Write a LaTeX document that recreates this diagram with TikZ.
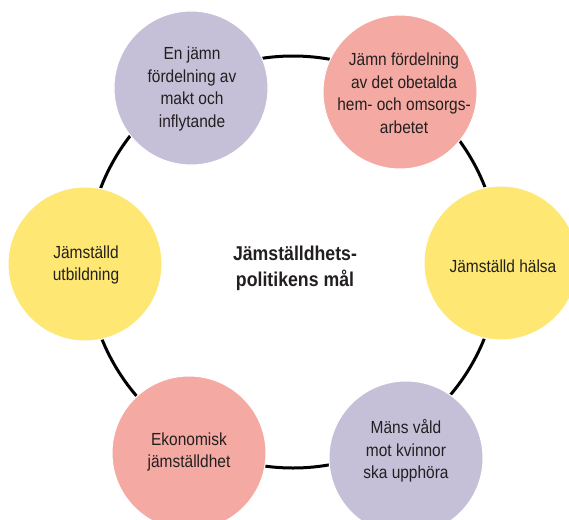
\documentclass[tikz,border=0pt]{standalone}
\usepackage{fontspec}
\setmainfont[FakeStretch=0.885]{Liberation Sans}
\definecolor{lav}{HTML}{C5C0D8}
\definecolor{rose}{HTML}{F4AAA2}
\definecolor{sun}{HTML}{FEE873}
\definecolor{ink}{HTML}{231F20}
\tikzset{
  goal/.style={circle, minimum size=154pt, inner sep=0pt, draw=white, line width=1pt},
  goaltext/.style={align=center, text=ink, inner sep=0pt, font=\fontsize{17.5}{22.5}\selectfont},
  ringstyle/.style={circle, draw=black, line width=3pt, minimum size=412pt, inner sep=0pt},
  titlestyle/.style={align=center, text=ink, inner sep=0pt, font=\bfseries\fontsize{20}{26}\selectfont}
}
\begin{document}
\begin{tikzpicture}[x=1pt, y=-1pt]
\useasboundingbox (0,0) rectangle (569,519);
\clip (0,0) rectangle (569,519);
\fill[white] (0,0) rectangle (569,519);
% ring connecting the goals
\node[ringstyle] (ring) at (293,262) {};
% goal circles
\node[goal, fill=lav]  (tl) at (191,88)  {};
\node[goal, fill=rose] (tr) at (400,92)  {};
\node[goal, fill=sun]  (l)  at (85,264)  {};
\node[goal, fill=sun]  (r)  at (501,263) {};
\node[goal, fill=rose] (bl) at (189,453) {};
\node[goal, fill=lav]  (br) at (406,458) {};
% texts
\node[goaltext] (tlt) at (192,89)  {En jämn\\fördelning av\\makt och\\inflytande};
\node[goaltext] (trt) at (404,93)  {Jämn fördelning\\av det obetalda\\hem- och omsorgs-\\arbetet};
\node[goaltext] (lt)  at (86,265)  {Jämställd\\utbildning};
\node[goaltext] (rt)  at (503,266) {Jämställd hälsa};
\node[goaltext] (blt) at (189,452) {Ekonomisk\\jämställdhet};
\node[goaltext] (brt) at (406,451) {Mäns våld\\mot kvinnor\\ska upphöra};
\node[titlestyle] (title) at (295,268) {Jämställdhets-\\politikens mål};
\end{tikzpicture}
\end{document}
